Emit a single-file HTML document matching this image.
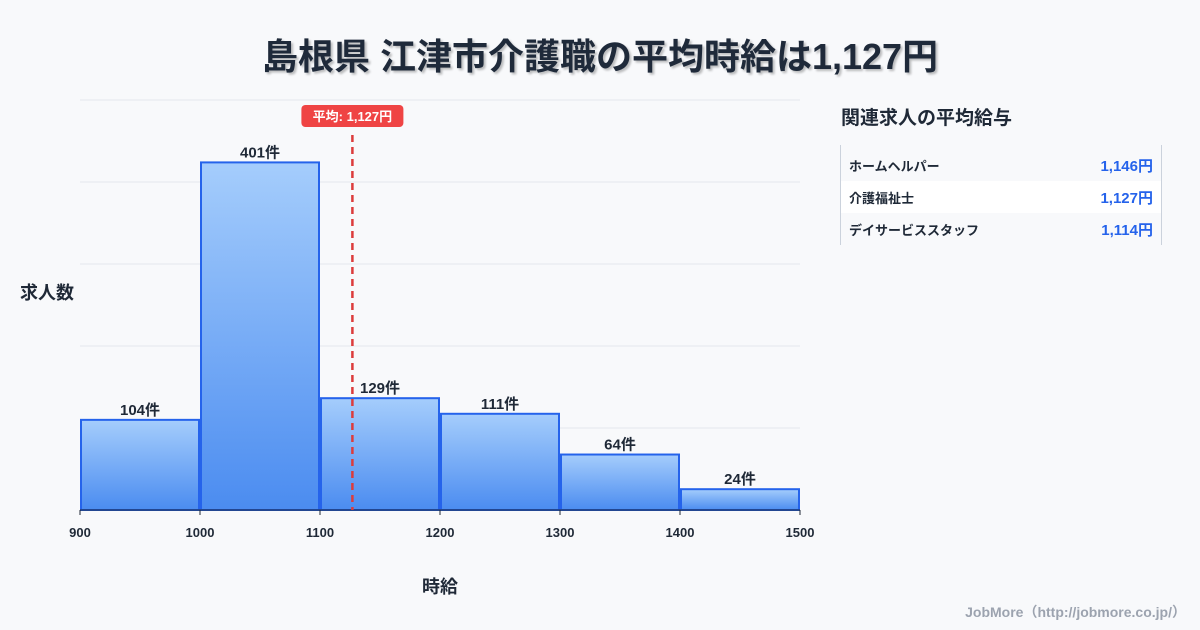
<!DOCTYPE html>
<html><head><meta charset="utf-8"><style>
body{margin:0;width:1200px;height:630px;background:#f8f9fb;font-family:"Liberation Sans","Noto Sans CJK JP",sans-serif;overflow:hidden;position:relative;color:#1f2937}
.title{position:absolute;left:0;width:1200px;top:28px;text-align:center;font-size:36px;font-weight:bold;color:#1f2a3a;text-shadow:2px 2px 2px rgba(0,0,0,0.25)}
.panel-title{position:absolute;left:841px;top:103px;font-size:19px;font-weight:bold;color:#1f2937}
.tbl{position:absolute;left:840px;top:145px;width:320px;height:96px;padding-top:4px;border-left:1px solid #cbd2dc;border-right:1px solid #cbd2dc}
.row{height:32px;display:flex;justify-content:space-between;align-items:center;padding:0 8px 0 8px;font-size:13px;font-weight:bold}
.row .v{color:#2563eb;font-size:15px}
.foot{position:absolute;right:14px;top:602px;font-size:14px;color:#9ca3af;font-weight:bold}
</style></head><body>
<div class="title">島根県 江津市介護職の平均時給は1,127円</div>
<svg id="chart" width="830" height="630" style="position:absolute;left:0;top:0"></svg>
<div class="panel-title">関連求人の平均給与</div>
<div class="tbl">
<div class="row"><span>ホームヘルパー</span><span class="v">1,146円</span></div>
<div class="row" style="background:#fff"><span>介護福祉士</span><span class="v">1,127円</span></div>
<div class="row"><span>デイサービススタッフ</span><span class="v">1,114円</span></div>
</div>
<div class="foot">JobMore（http://jobmore.co.jp/）</div>
<script>
const binStarts=[900,1000,1100,1200,1300,1400];
const counts=[104,401,129,111,64,24];
const xTicks=[900,1000,1100,1200,1300,1400,1500];
const meanValue=1127;
const yMax=473;
const ns="http://www.w3.org/2000/svg";
const svg=document.getElementById('chart');
const X0=80,X1=800,Y0=510,Y1=100;
const x=v=>X0+(v-900)/(1500-900)*(X1-X0);
const y=v=>Y0-v/yMax*(Y0-Y1);
function mk(t,a){const e=document.createElementNS(ns,t);for(const k in a)e.setAttribute(k,a[k]);svg.appendChild(e);return e;}
const defs=mk('defs',{});
defs.innerHTML='<linearGradient id="g" x1="0" y1="0" x2="0" y2="1"><stop offset="0" stop-color="#a5cdfc"/><stop offset="1" stop-color="#4b8cf0"/></linearGradient>';
for(let i=0;i<=5;i++){const gy=Y0-i*(Y0-Y1)/5;const l=mk('line',{x1:X0,x2:X1,y1:gy,y2:gy,stroke:'#e3e7ee','stroke-width':1});

}
binStarts.forEach((b,i)=>{const xa=x(b)+1,xb=x(b+100)-1,yt=y(counts[i]);
const r=mk('rect',{x:xa,y:yt,width:xb-xa,height:Y0-yt,fill:'url(#g)',stroke:'#2563eb','stroke-width':2});


const t=mk('text',{x:(xa+xb)/2,y:yt-5,'text-anchor':'middle','font-size':15,'font-weight':'bold',fill:'#1f2937'});t.textContent=counts[i]+'件';

});
const ax=mk('line',{x1:X0,x2:X1,y1:Y0,y2:Y0,stroke:'#1f2937','stroke-width':1});


xTicks.forEach(v=>{const tk=mk('line',{x1:x(v),x2:x(v),y1:Y0,y2:Y0+5,stroke:'#1f2937'});


const t=mk('text',{x:x(v),y:537,'text-anchor':'middle','font-size':13,'font-weight':'bold',fill:'#1f2937'});t.textContent=v;

});
const mx=x(meanValue);
const ml=mk('line',{x1:mx,x2:mx,y1:135,y2:Y0,stroke:'#dc3c3c','stroke-width':2.5,'stroke-dasharray':'7,5'});


const mb=mk('rect',{x:mx-51,y:105,width:102,height:22,rx:4,fill:'#ef4444'});


const mt=mk('text',{x:mx,y:121,'text-anchor':'middle','font-size':13,'font-weight':'bold',fill:'#fff'});mt.textContent='平均: 1,127円';


const yt=mk('text',{x:20,y:299,'font-size':18,'font-weight':'bold',fill:'#1f2937'});yt.textContent='求人数';


const xt=mk('text',{x:440,y:593,'text-anchor':'middle','font-size':18,'font-weight':'bold',fill:'#1f2937'});xt.textContent='時給';


</script>
</body></html>
